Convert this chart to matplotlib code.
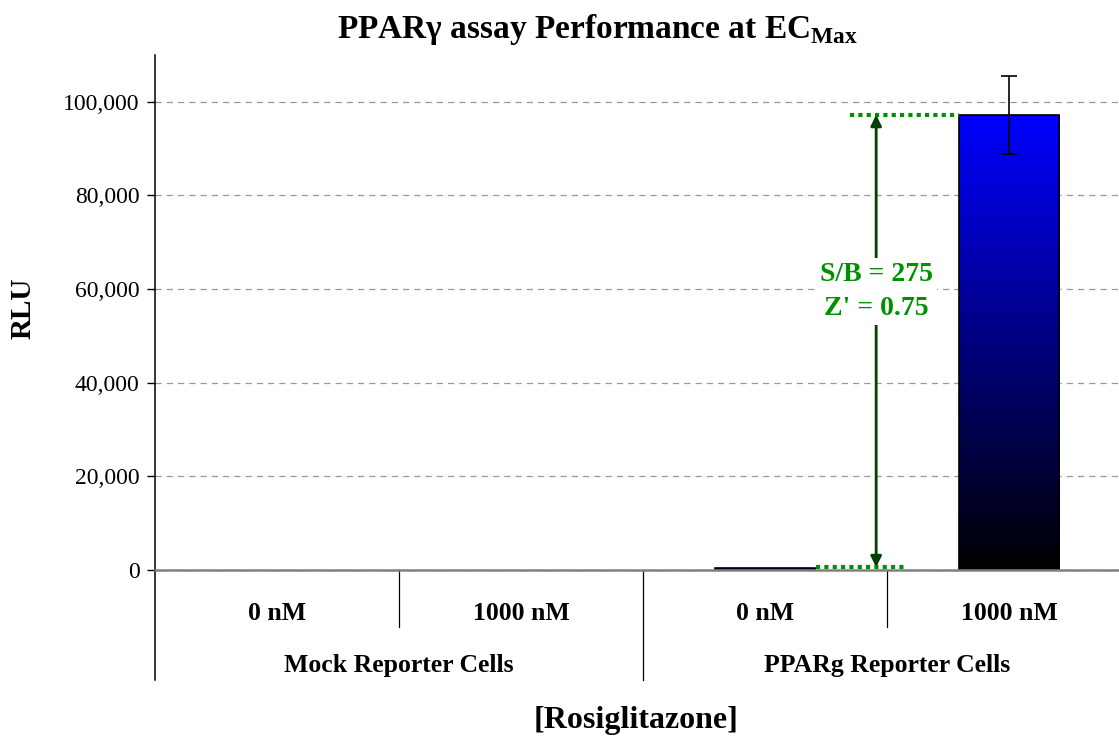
import matplotlib
matplotlib.use("Agg")
import matplotlib.pyplot as plt
import numpy as np
from matplotlib.colors import LinearSegmentedColormap
from matplotlib.ticker import FuncFormatter
import matplotlib.transforms as mtransforms

plt.rcParams['font.family'] = ['Liberation Serif', 'DejaVu Serif']
plt.rcParams['mathtext.fontset'] = 'custom'
plt.rcParams['mathtext.rm'] = 'Liberation Serif:bold'

# data
doses = ["0 nM", "1000 nM", "0 nM", "1000 nM"]
groups = ["Mock Reporter Cells", "PPARg Reporter Cells"]
rlu = [60, 70, 353, 97200]
rlu_err = [0, 0, 0, 8300]
sb_text = "S/B = 275\nZ' = 0.75"

fig = plt.figure(figsize=(11.19, 7.4), dpi=100)
ax = fig.add_axes([0.1385, 0.2297, 0.8615, 0.696])

x = np.arange(len(rlu))
w = 0.41
cmap = LinearSegmentedColormap.from_list("bk_blue", ["#000000", "#0000ff"])
grad = np.linspace(0, 1, 256).reshape(-1, 1)

for xi, v in zip(x, rlu):
    lw = 1.2 if v > 100 else 0
    bar = ax.bar(xi, v, width=w, color="none", edgecolor="black", linewidth=lw, zorder=3)[0]
    im = ax.imshow(grad, cmap=cmap, origin="lower", aspect="auto",
                   extent=[xi - w / 2, xi + w / 2, 0, v], zorder=2)
    im.set_clip_path(bar)

ax.errorbar(x[3], rlu[3], yerr=rlu_err[3], fmt="none", ecolor="black",
            elinewidth=1.2, capsize=5.5, capthick=1.2, zorder=4)

ax.set_xlim(-0.5, 3.45)
ax.set_ylim(0, 110000)
ax.set_yticks(np.arange(0, 100001, 20000))
ax.yaxis.set_major_formatter(FuncFormatter(lambda v, p: f"{int(v):,}"))
ax.tick_params(axis="y", labelsize=17, direction="out", length=6, width=1, pad=5)
ax.set_xticks([])
ax.grid(axis="y", color="#999999", linestyle=(0, (5, 4)), linewidth=0.9, zorder=0)
ax.set_axisbelow(True)

for s in ["top", "right"]:
    ax.spines[s].set_visible(False)
ax.spines["bottom"].set_color("#808080")
ax.spines["bottom"].set_linewidth(1.8)
ax.spines["bottom"].set_zorder(5)
ax.spines["left"].set_linewidth(1.1)

# category axis below
trans = mtransforms.blended_transform_factory(ax.transData, ax.transAxes)
ax.plot([-0.5, -0.5], [0, -0.2136], transform=trans, color="black", lw=1.1, clip_on=False)
ax.plot([1.5, 1.5], [0, -0.2136], transform=trans, color="black", lw=0.9, clip_on=False)
for xd in [0.5, 2.5]:
    ax.plot([xd, xd], [0, -0.1107], transform=trans, color="black", lw=0.9, clip_on=False)
for xi, lab in zip(x, doses):
    ax.text(xi, -0.0835, lab, transform=trans, ha="center", va="center",
            fontsize=18.5, fontweight="bold")
for gi, g in enumerate(groups):
    ax.text(gi * 2 + 0.5, -0.1845, g, transform=trans, ha="center", va="center",
            fontsize=18.5, fontweight="bold")

# S/B annotation
green = "#009000"
ax.plot([2.348, 2.795], [rlu[3], rlu[3]], color=green, lw=3, linestyle=(0, (1, 1)), zorder=4)
ax.plot([2.209, 2.574], [rlu[2] + 250, rlu[2] + 250], color=green, lw=3, linestyle=(0, (1, 1)), zorder=4)
ax.annotate("", xy=(2.455, rlu[3]), xytext=(2.455, rlu[2] + 250),
            arrowprops=dict(arrowstyle="<|-|>", color="#004000", lw=2,
                            mutation_scale=16, shrinkA=0, shrinkB=0), zorder=4)
ax.text(2.455, 59500, sb_text, ha="center", va="center", color=green,
        fontsize=20, fontweight="bold", linespacing=1.5,
        bbox=dict(facecolor="white", edgecolor="none", pad=3), zorder=5)

fig.text(0.0206, 0.584, "RLU", rotation=90, ha="center", va="center",
         fontsize=21, fontweight="bold")
fig.text(0.534, 0.96, "PPAR\u03b3 assay Performance at EC$_{\\mathrm{Max}}$",
         ha="center", va="center", fontsize=24, fontweight="bold")
fig.text(0.568, 0.026, "[Rosiglitazone]", ha="center", va="center",
         fontsize=23, fontweight="bold")

fig.savefig("out.png", dpi=100)
